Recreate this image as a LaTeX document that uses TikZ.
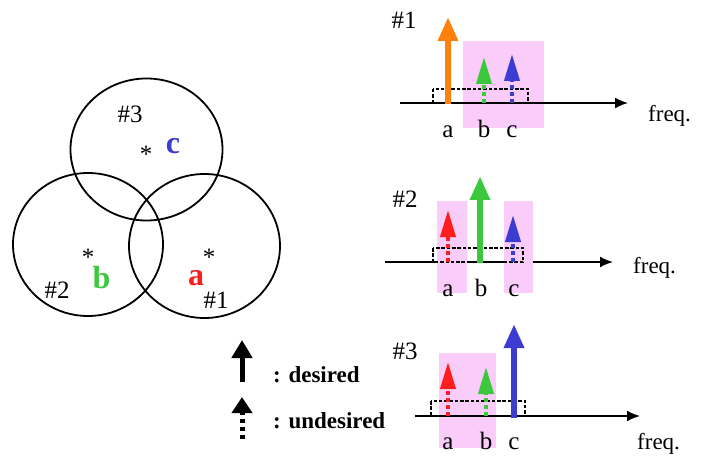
\documentclass[tikz,border=0pt]{standalone}
\usepackage{fontspec}
\setmainfont{Liberation Serif}
\usetikzlibrary{arrows.meta}

\tikzset{
  desired/.style={line width=6pt,-{Triangle[length=24pt,width=19pt]}},
  undesired/.style={line width=4pt,dash pattern=on 4pt off 3pt,
    -{Triangle[length=27pt,width=15pt]}},
  freqaxis/.style={line width=1.8pt,-{Latex[length=13pt,width=11pt]}},
  passband/.style={fill=bandcolor,draw=none},
  guardbox/.style={draw,line width=1.1pt,dash pattern=on 3.5pt off 1.8pt},
  cell/.style={line width=1.8pt},
  tag/.style={inner sep=0pt,font=\fontsize{25}{28}\selectfont},
  tone/.style={inner sep=0pt,anchor=base,font=\fontsize{25}{28}\selectfont},
  freqlabel/.style={inner sep=0pt,anchor=base west,font=\fontsize{23}{26}\selectfont},
  user/.style={inner sep=0pt,font=\bfseries\fontsize{32}{36}\selectfont},
  site/.style={inner sep=0pt,font=\fontsize{25}{28}\selectfont},
  keytext/.style={inner sep=0pt,anchor=west,font=\bfseries\fontsize{23}{27}\selectfont},
}

\begin{document}
\begin{tikzpicture}[x=1pt,y=-1pt]
\definecolor{bandcolor}{RGB}{250,204,250}
\definecolor{ucolor}{RGB}{255,128,10}
\definecolor{rcolor}{RGB}{255,30,30}
\definecolor{gcolor}{RGB}{60,200,60}
\definecolor{bcolor}{RGB}{60,60,210}
\useasboundingbox (0,0) rectangle (701,457);

% Three overlapping cells with their users.
\coordinate (cell3) at (146.5,149.5);
\coordinate (cell2) at (88,244.5);
\coordinate (cell1) at (204.5,246);
\draw[cell] (cell3) ellipse [x radius=76,y radius=71];
\draw[cell] (cell2) ellipse [x radius=75,y radius=71.5];
\draw[cell] (cell1) ellipse [x radius=75.5,y radius=72];
\node[site] (site3) at (146,154) {*};
\node[site] (site2) at (88,257) {*};
\node[site] (site1) at (209,257) {*};
\node[tag] (cname3) at (130,114) {\#3};
\node[tag] (cname2) at (57,290) {\#2};
\node[tag] (cname1) at (216,300) {\#1};
\node[user,bcolor] (userc) at (173,146) {c};
\node[user,gcolor] (userb) at (101.5,278) {b};
\node[user,rcolor] (usera) at (196,278) {a};

% Legend.
\coordinate (kd0) at (242,382);
\coordinate (kd1) at (242,340);
\coordinate (ku0) at (242,439);
\coordinate (ku1) at (242,397);
\draw[desired,line width=5pt,-{Triangle[length=18pt,width=20pt]}] (kd0) -- (kd1);
\draw[undesired,line width=5pt,dash pattern=on 4pt off 4pt,
  -{Triangle[length=16pt,width=20pt]}] (ku0) -- (ku1);
\node[keytext] (keyd) at (273,375) {: desired};
\node[keytext] (keyu) at (273,421) {: undesired};

% Spectrum seen in cell #1.
\fill[passband] (463,41) rectangle (544,128);
\coordinate (ax1s) at (400,103);
\coordinate (ax1e) at (628,103);
\draw[freqaxis] (ax1s) -- (ax1e);
\draw[guardbox] (433,89) rectangle (528,103);
\coordinate (f1a) at (448,104);
\coordinate (f1b) at (484,103);
\coordinate (f1c) at (512,103);
\coordinate (t1a) at (448,17);
\coordinate (t1b) at (484,57);
\coordinate (t1c) at (512,54);
\draw[desired,ucolor] (f1a) -- (t1a);
\draw[undesired,gcolor] (f1b) -- (t1b);
\draw[undesired,bcolor] (f1c) -- (t1c);
\node[tag] (tag1) at (404,20) {\#1};
\node[tone] (l1a) at (448,138) {a};
\node[tone] (l1b) at (484,138) {b};
\node[tone] (l1c) at (512,138) {c};
\node[freqlabel] (fq1) at (648,122) {freq.};

% Spectrum seen in cell #2.
\coordinate (ax2s) at (385,262);
\coordinate (ax2e) at (613,262);
\draw[freqaxis] (ax2s) -- (ax2e);
\fill[passband] (437,201) rectangle (467,293);
\fill[passband] (504,201) rectangle (533,293);
\draw[guardbox] (433,248) rectangle (523,262);
\coordinate (f2a) at (448,262);
\coordinate (f2b) at (480,263);
\coordinate (f2c) at (513,262);
\coordinate (t2a) at (448,210);
\coordinate (t2b) at (480,176);
\coordinate (t2c) at (513,215);
\draw[undesired,rcolor] (f2a) -- (t2a);
\draw[desired,gcolor] (f2b) -- (t2b);
\draw[undesired,bcolor] (f2c) -- (t2c);
\node[tag] (tag2) at (405,199) {\#2};
\node[tone] (l2a) at (448,296) {a};
\node[tone] (l2b) at (481,296) {b};
\node[tone] (l2c) at (514,296) {c};
\node[freqlabel] (fq2) at (633,273) {freq.};

% Spectrum seen in cell #3.
\fill[passband] (439,353) rectangle (496,448);
\coordinate (ax3s) at (415,416);
\coordinate (ax3e) at (640,416);
\draw[freqaxis] (ax3s) -- (ax3e);
\draw[guardbox] (431,401) rectangle (525,416);
\coordinate (f3a) at (448,416);
\coordinate (f3b) at (486,416);
\coordinate (f3c) at (514,418);
\coordinate (t3a) at (448,362);
\coordinate (t3b) at (486,367);
\coordinate (t3c) at (514,324);
\draw[undesired,rcolor] (f3a) -- (t3a);
\draw[undesired,gcolor] (f3b) -- (t3b);
\draw[desired,bcolor] (f3c) -- (t3c);
\node[tag] (tag3) at (405,351) {\#3};
\node[tone] (l3a) at (448,449) {a};
\node[tone] (l3b) at (486,449) {b};
\node[tone] (l3c) at (514,449) {c};
\node[freqlabel] (fq3) at (637,449) {freq.};
\end{tikzpicture}
\end{document}
